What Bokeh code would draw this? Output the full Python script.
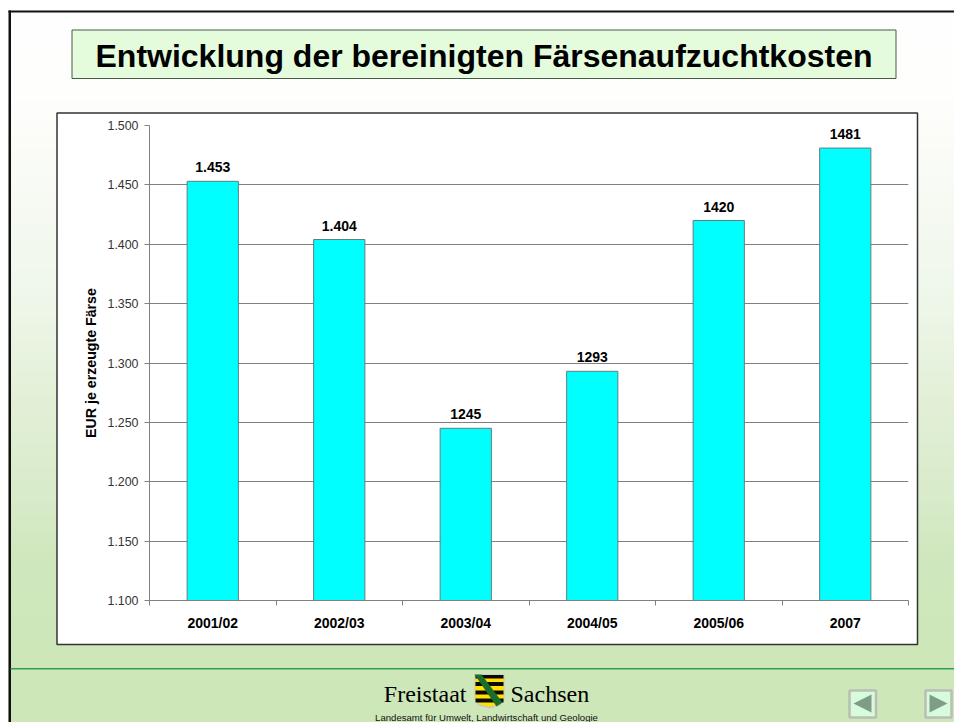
import numpy as np
from bokeh.plotting import figure
from bokeh.models import FixedTicker, ColumnDataSource, Range1d
from bokeh.core.properties import value
from bokeh.embed import file_html
from bokeh.resources import INLINE

categories = ["2001/02", "2002/03", "2003/04", "2004/05", "2005/06", "2007"]
values = [1453, 1404, 1245, 1293, 1420, 1481]
value_labels = ["1.453", "1.404", "1245", "1293", "1420", "1481"]
y_ticks = [1100, 1150, 1200, 1250, 1300, 1350, 1400, 1450, 1500]
y_tick_labels = ["1.100", "1.150", "1.200", "1.250", "1.300", "1.350", "1.400", "1.450", "1.500"]
title_text = "Entwicklung der bereinigten Färsenaufzuchtkosten"
y_title = "EUR je erzeugte Färse"
footer_left = "Freistaat"
footer_right = "Sachsen"
footer_sub = "Landesamt für Umwelt, Landwirtschaft und Geologie"

W, H = 954, 722
SANS = "Liberation Sans"
SERIF = "Liberation Serif"

# ---------- slide layer: its data space is the page itself ----------
bg = figure(width=W, height=H, output_backend="svg", toolbar_location=None,
            x_range=Range1d(0, W), y_range=Range1d(H, 0), min_border=0,
            border_fill_color="white", background_fill_color="white", outline_line_color=None)
bg.xaxis.visible = False
bg.yaxis.visible = False
bg.grid.visible = False


def box(l, t, r, b, fill=None, line=None, lw=1):
    bg.quad(left=[l], right=[r], top=[t], bottom=[b], fill_color=fill, fill_alpha=1 if fill else 0,
            line_color=line, line_alpha=1 if line else 0, line_width=lw)


def poly(xs, ys, fill):
    bg.patch(x=xs, y=ys, fill_color=fill, line_color=None)


def label(x, y, text, size, font=SANS, style="normal", color="black", align="left"):
    bg.text(x=[x], y=[y], text=[text], text_font=value(font), text_font_size=f"{size}px",
            text_font_style=style, text_color=color, text_align=align, text_baseline="middle")


grad_y = [10, 100, 150, 300, 400, 500, 560, 668, 722]
grad_r = [255, 254, 251, 239, 227, 216, 207, 205, 205]
grad_g = [255, 254, 252, 247, 240, 235, 231, 231, 231]
grad_b = [255, 252, 248, 234, 215, 202, 189, 185, 185]
for y0 in range(10, 722, 6):
    ym = y0 + 3
    c = "#%02x%02x%02x" % (int(np.interp(ym, grad_y, grad_r)), int(np.interp(ym, grad_y, grad_g)),
                           int(np.interp(ym, grad_y, grad_b)))
    box(8, y0, W, min(y0 + 7, H), fill=c)

box(8, 10, 10.5, H, fill="#111111")
box(8, 10, W, 12, fill="#111111")
box(10, 667.5, W, 669, fill="#2f9e58")

box(71.5, 29.5, 895.5, 78, fill="#e4fbdc", line="#4a5a4a", lw=1)
box(56.5, 112.5, 917, 644, fill="white", line="#333333", lw=1.5)

label(483.5, 55, title_text, 32, style="bold", align="center")
label(466, 693, footer_left, 24, font=SERIF, align="right")
label(510, 693, footer_right, 24, font=SERIF)
label(486, 716.5, footer_sub, 9.6, align="center", color="#111111")

# coat of arms
poly([474, 504, 504, 500, 489, 478, 474], [674, 674, 698, 705, 708, 705, 698], "#c8c8b8")
poly([475, 503, 503, 499, 489, 479, 475], [675, 675, 698, 704, 706, 704, 698], "#ffe000")
for top, bottom in ((674.5, 678), (681.5, 685.5), (690, 694), (698, 702)):
    box(475, top, 503, bottom, fill="#0a0a0a")
poly([474, 481, 502, 496], [674, 674, 702, 706], "#1a6e2a")

# navigation buttons
for l, r in ((849, 875.5), (925, 951)):
    box(l, 690, r, 717, fill="#d8fbdc", line="#b8bfb5", lw=2.5)
poly([871, 871, 853], [694, 712, 703], "#7f9c88")
poly([929, 929, 947], [694, 712, 703], "#7f9c88")

# ---------- chart layer, laid over the slide ----------
p = figure(width=W, height=H, output_backend="svg", toolbar_location=None,
           x_range=Range1d(0, 6), y_range=Range1d(1100, 1500),
           min_border_left=149, min_border_right=46, min_border_top=125, min_border_bottom=122,
           border_fill_color=None, background_fill_color=None, outline_line_color=None,
           margin=(-H, 0, 0, 0))

src = ColumnDataSource(dict(x=[i + 0.5 for i in range(len(categories))], top=values, lab=value_labels))
p.vbar(x="x", top="top", bottom=1100, width=0.405, source=src,
       fill_color="#00ffff", line_color="#5f7f7f", line_width=1)
p.text(x="x", y="top", text="lab", source=src, text_font=value(SANS), text_font_style="bold",
       text_font_size="14px", text_align="center", text_baseline="middle", y_offset=-14, text_color="black")

p.xgrid.visible = False
p.ygrid.ticker = FixedTicker(ticks=y_ticks)
p.ygrid.grid_line_color = "#808080"
p.ygrid.grid_line_width = 1

xa = p.xaxis[0]
xa.ticker = FixedTicker(ticks=[i + 0.5 for i in range(6)], minor_ticks=list(range(7)))
xa.major_label_overrides = {i + 0.5: c for i, c in enumerate(categories)}
xa.major_tick_line_color = None
xa.minor_tick_in = 0
xa.minor_tick_out = 5
xa.minor_tick_line_color = "#808080"
xa.axis_line_color = "#808080"
xa.major_label_standoff = 8
xa.major_label_text_font = SANS
xa.major_label_text_font_style = "bold"
xa.major_label_text_font_size = "14px"
xa.major_label_text_color = "black"

ya = p.yaxis[0]
ya.ticker = FixedTicker(ticks=y_ticks)
ya.major_label_overrides = dict(zip(y_ticks, y_tick_labels))
ya.major_tick_in = 0
ya.major_tick_out = 5
ya.minor_tick_line_color = None
ya.major_tick_line_color = "#808080"
ya.axis_line_color = "#808080"
ya.major_label_standoff = 6
ya.major_label_text_font = SANS
ya.major_label_text_font_size = "12.4px"
ya.major_label_text_color = "#333333"
ya.axis_label = y_title
ya.axis_label_text_font = SANS
ya.axis_label_text_font_style = "bold"
ya.axis_label_text_font_size = "14.2px"
ya.axis_label_text_color = "black"
ya.axis_label_standoff = 5

open("out.html", "w").write(file_html([bg, p], INLINE))
